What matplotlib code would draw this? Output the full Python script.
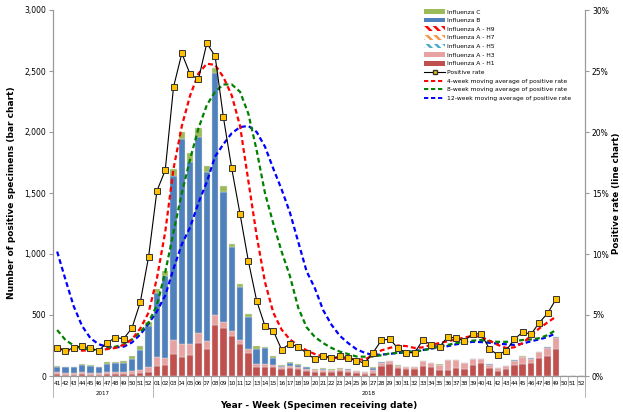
import matplotlib
matplotlib.use("Agg")
import matplotlib.pyplot as plt
import numpy as np
from matplotlib.patches import Patch
from matplotlib.lines import Line2D
from matplotlib.ticker import FuncFormatter

# categories: 2017 wk41-52, 2018 wk01-52
weeks_2017 = list(range(41, 53))
weeks_2018 = list(range(1, 53))
week_labels = ["%02d" % w for w in weeks_2017 + weeks_2018]
years = ["2017", "2018"]

nan = np.nan

# number of positive specimens (bars)
h1 = [15, 12, 12, 15, 12, 10, 14, 15, 14, 20, 27, 35,
      82, 90, 178, 158, 172, 268, 219, 418, 391, 328, 260, 186, 77, 77, 77, 56, 66, 55,
      38, 36, 36, 33, 38, 36, 28, 18, 22, 82, 96, 65, 60, 55, 82, 75, 49, 49, 68, 60,
      90, 107, 68, 44, 60, 93, 96, 109, 150, 167, 224, 0, 0, 0]
h3 = [18, 16, 14, 18, 15, 14, 18, 20, 20, 24, 22, 36,
      76, 55, 117, 102, 88, 82, 68, 82, 54, 41, 35, 33, 20, 20, 14, 14, 18, 18,
      22, 12, 14, 14, 16, 16, 12, 14, 30, 28, 26, 20, 10, 15, 38, 30, 45, 80, 61, 45,
      47, 32, 25, 22, 20, 33, 58, 33, 43, 65, 88, 0, 0, 0]
h5 = [0] * 64
h7 = [0] * 64
h9 = [0] * 64
flu_b = [44, 42, 44, 60, 55, 46, 70, 70, 76, 95, 164, 340,
         525, 677, 1347, 1683, 1492, 1612, 1388, 1981, 1066, 691, 432, 267, 128, 130, 60, 16, 22, 18,
         12, 5, 8, 6, 5, 4, 2, 2, 15, 3, 2, 1, 0, 0, 0, 0, 0, 0, 0, 0,
         0, 2, 2, 0, 3, 2, 4, 4, 2, 3, 4, 0, 0, 0]
flu_c = [5, 4, 4, 5, 6, 7, 13, 10, 13, 22, 33, 34,
         28, 39, 55, 60, 73, 73, 49, 46, 49, 19, 27, 22, 21, 13, 13, 7, 9, 7,
         5, 4, 5, 4, 4, 4, 2, 2, 4, 2, 2, 2, 1, 1, 3, 2, 2, 2, 2, 2,
         2, 1, 1, 2, 2, 3, 3, 2, 2, 5, 6, 0, 0, 0]

# positive rate (%) and moving averages
rate = [2.32, 2.05, 2.32, 2.46, 2.27, 2.08, 2.73, 3.14, 3.06, 3.93, 6.04, 9.78,
        15.17, 16.86, 23.69, 26.45, 24.73, 24.32, 27.27, 26.23, 21.2, 17.02, 13.28, 9.43, 6.17, 4.1, 3.71, 2.16, 2.65, 2.38,
        1.89, 1.37, 1.67, 1.48, 1.61, 1.5, 1.27, 1.04, 1.91, 2.92, 3.03, 2.27, 1.91, 1.91, 2.95, 2.54, 2.40, 3.22, 3.09, 2.87,
        3.48, 3.44, 2.24, 1.72, 2.08, 3.0, 3.61, 3.42, 4.37, 5.14, 6.28, nan, nan, nan]
ma4 = [2.27, 2.1, 2.08, 2.08, 2.1, 2.13, 2.2, 2.3, 2.55, 3.0, 3.9, 5.2,
       8.0, 11.8, 17.0, 20.5, 23.0, 24.8, 25.6, 25.5, 24.5, 23.0, 20.5, 16.0, 11.5, 7.7, 5.2, 3.8, 3.0, 2.5,
       2.1, 1.8, 1.6, 1.5, 1.45, 1.4, 1.35, 1.35, 1.7, 2.1, 2.3, 2.5, 2.45, 2.3, 2.35, 2.55, 2.7, 2.85, 3.0, 3.15,
       3.3, 3.2, 2.9, 2.55, 2.3, 2.35, 2.7, 3.3, 3.9, 4.4, 4.86, nan, nan, nan]
ma8 = [3.77, 2.95, 2.5, 2.25, 2.15, 2.13, 2.25, 2.4, 2.6, 3.0, 3.6, 4.4,
       5.8, 8.5, 11.8, 15.0, 17.8, 20.3, 22.2, 23.3, 23.9, 23.9, 23.3, 21.5, 18.5, 15.0, 12.5, 10.2, 8.2, 5.6,
       4.0, 3.2, 2.7, 2.3, 2.0, 1.8, 1.6, 1.58, 1.6, 1.7, 1.85, 1.9, 1.95, 2.0, 2.1, 2.25, 2.4, 2.55, 2.7, 2.8,
       2.9, 2.95, 2.85, 2.8, 2.8, 2.85, 2.95, 3.0, 3.1, 3.35, 3.77, nan, nan, nan]
ma12 = [10.2, 7.9, 5.7, 4.1, 3.1, 2.6, 2.4, 2.35, 2.4, 2.75, 3.4, 4.3,
        5.3, 6.6, 8.8, 10.8, 12.2, 14.2, 15.9, 18.0, 19.0, 19.9, 20.4, 20.5, 20.0, 18.8, 17.0, 15.3, 13.4, 11.0,
        8.6, 7.2, 5.4, 4.2, 3.3, 2.7, 2.2, 1.9, 1.72, 1.75, 1.82, 1.88, 1.95, 2.05, 2.13, 2.25, 2.35, 2.45, 2.6, 2.7,
        2.8, 2.78, 2.72, 2.65, 2.6, 2.55, 2.65, 2.85, 3.0, 3.2, 3.5, nan, nan, nan]

plt.rcParams["hatch.linewidth"] = 1.8
plt.rcParams["font.family"] = "DejaVu Sans"

fig = plt.figure(figsize=(6.23, 4.12), dpi=100)
ax = fig.add_axes([53 / 623, 1 - 376 / 412, 532 / 623, 366 / 412])
x = np.arange(len(week_labels))

HATCH = "\\\\\\\\"
series = [(h1, "#C0504D", None), (h3, "#E6A3A2", None),
          (h5, "#4BACC6", HATCH), (h7, "#F79646", HATCH), (h9, "#FF0000", HATCH),
          (flu_b, "#4F81BD", None), (flu_c, "#9BBB59", None)]
bottom = np.zeros(len(x))
for vals, col, hatch in series:
    v = np.array(vals, dtype=float)
    if hatch:
        ax.bar(x, v, 0.76, bottom=bottom, color="white", edgecolor=col, hatch=hatch, linewidth=0)
    else:
        ax.bar(x, v, 0.76, bottom=bottom, color=col, edgecolor="#e0e0e0", linewidth=0.3)
    bottom += v

ax.set_xlim(-0.5, len(x) - 0.5)
ax.set_ylim(0, 3000)
ax.set_yticks(range(0, 3001, 500))
ax.yaxis.set_major_formatter(FuncFormatter(lambda v, p: "{:,.0f}".format(v)))
ax.tick_params(axis="y", labelsize=5.5, length=3, color="#999999", pad=2)
ax.set_xticks(x)
ax.set_xticklabels(week_labels, fontsize=4.2)
ax.set_xticks(np.arange(-0.5, len(x), 1), minor=True)
ax.tick_params(axis="x", which="major", length=0, pad=3.5)
ax.tick_params(axis="x", which="minor", length=7, color="#aaaaaa", width=0.6)
ax.spines["top"].set_visible(False)
for s in ["left", "right", "bottom"]:
    ax.spines[s].set_color("#999999")

# year separators and labels
trans = ax.get_xaxis_transform()
for xb in [-0.5, 11.5, len(x) - 0.5]:
    ax.plot([xb, xb], [0, -0.058], transform=trans, color="#aaaaaa", lw=0.6, clip_on=False)
ax.text(5.5, -0.047, years[0], transform=trans, ha="center", va="center", fontsize=4)
ax.text(37.5, -0.047, years[1], transform=trans, ha="center", va="center", fontsize=4)

ax.set_xlabel("Year - Week (Specimen receiving date)", fontsize=6.5, fontweight="bold")
ax.xaxis.set_label_coords(0.5, -(401 - 376) / 366)

# axis titles placed in figure pixels
ymid = 1 - 193 / 412
fig.text(12 / 623, ymid, "Number of positive specimens (bar chart)", rotation=90,
         ha="center", va="center", fontsize=6.5, fontweight="bold")
fig.text(616 / 623, ymid, "Positive rate (line chart)", rotation=90,
         ha="center", va="center", fontsize=6.3, fontweight="bold")

ax2 = ax.twinx()
ax2.set_ylim(0, 30)
ax2.set_yticks(range(0, 31, 5))
ax2.yaxis.set_major_formatter(FuncFormatter(lambda v, p: "%d%%" % v))
ax2.tick_params(axis="y", labelsize=5.5, length=3, color="#999999", pad=2)
ax2.spines["top"].set_visible(False)
for s in ["left", "right", "bottom"]:
    ax2.spines[s].set_color("#999999")

ax2.plot(x, ma12, color="#0000FF", lw=1.6, ls=(0, (2.2, 1.4)))
ax2.plot(x, ma8, color="#008000", lw=1.6, ls=(0, (2.2, 1.4)))
ax2.plot(x, ma4, color="#FF0000", lw=1.6, ls=(0, (2.2, 1.4)))
ax2.plot(x, rate, color="black", lw=0.8, marker="s", markersize=4,
         markerfacecolor="#FFC000", markeredgecolor="#333333", markeredgewidth=0.7)

handles = [
    Patch(facecolor="#9BBB59", label="Influenza C"),
    Patch(facecolor="#4F81BD", label="Influenza B"),
    Patch(facecolor="white", edgecolor="#FF0000", hatch=HATCH, linewidth=0, label="Influenza A - H9"),
    Patch(facecolor="white", edgecolor="#F79646", hatch=HATCH, linewidth=0, label="Influenza A - H7"),
    Patch(facecolor="white", edgecolor="#4BACC6", hatch=HATCH, linewidth=0, label="Influenza A - H5"),
    Patch(facecolor="#E6A3A2", label="Influenza A - H3"),
    Patch(facecolor="#C0504D", label="Influenza A - H1"),
    Line2D([], [], color="black", lw=0.8, marker="s", markersize=3.5, markerfacecolor="#FFC000",
           markeredgecolor="#333333", label="Positive rate"),
    Line2D([], [], color="#FF0000", lw=1.4, ls=(0, (2.2, 1.4)), label="4-week moving average of positive rate"),
    Line2D([], [], color="#008000", lw=1.4, ls=(0, (2.2, 1.4)), label="8-week moving average of positive rate"),
    Line2D([], [], color="#0000FF", lw=1.4, ls=(0, (2.2, 1.4)), label="12-week moving average of positive rate"),
]
leg = ax2.legend(handles=handles, loc="upper left", bbox_to_anchor=(420 / 623, 1 - 5 / 412),
                 bbox_transform=fig.transFigure, frameon=False, fontsize=4.3,
                 handlelength=3.5, handleheight=0.8, labelspacing=0.55, handletextpad=0.35,
                 borderpad=0.2)

fig.savefig("out.png", dpi=100)
